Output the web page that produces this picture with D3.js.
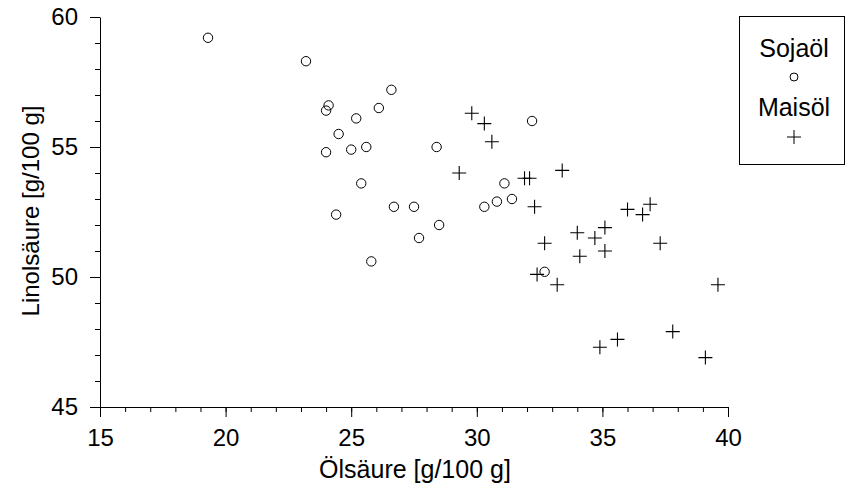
<!DOCTYPE html>
<html lang="de">
<head>
  <meta charset="utf-8">
  <title>Sojaöl vs Maisöl</title>
  <script src="https://cdn.jsdelivr.net/npm/d3@7"></script>
  <style>
    body { margin: 0; background: #fff; }
    text { font-family: "Liberation Sans", Arial, sans-serif; fill: #000; }
  </style>
</head>
<body>
  <svg class="chart" width="851" height="488"></svg>
  <script>
    // Ölsäure / Linolsäure je Probe
    var sojaOel = [19.3, 23.2, 26.6, 24.1, 24.0, 26.1, 25.2, 24.5, 24.0, 25.0, 25.6, 25.4, 26.7,
                   27.5, 24.4, 28.4, 32.2, 31.1, 30.8, 31.4, 30.3, 28.5, 27.7, 25.8, 32.7];
    var sojaLinol = [59.2, 58.3, 57.2, 56.6, 56.4, 56.5, 56.1, 55.5, 54.8, 54.9, 55.0, 53.6, 52.7,
                     52.7, 52.4, 55.0, 56.0, 53.6, 52.9, 53.0, 52.7, 52.0, 51.5, 50.6, 50.2];
    var maisOel = [29.8, 30.3, 30.6, 29.3, 31.9, 32.1, 32.3, 32.7, 32.4, 33.2, 33.4, 36.0, 36.9,
                   36.6, 35.1, 34.0, 34.7, 35.1, 34.1, 37.3, 39.6, 37.8, 35.6, 34.9, 39.1];
    var maisLinol = [56.3, 55.9, 55.2, 54.0, 53.8, 53.8, 52.7, 51.3, 50.1, 49.7, 54.1, 52.6, 52.8,
                     52.4, 51.9, 51.7, 51.5, 51.0, 50.8, 51.3, 49.7, 47.9, 47.6, 47.3, 46.9];
    var xTicks = [15, 20, 25, 30, 35, 40];
    var yTicks = [45, 50, 55, 60];
    var series = ["Sojaöl", "Maisöl"];

    var svg = d3.select("svg.chart");

    var x = d3.scaleLinear().domain([15, 40]).range([100, 728]);
    var y = d3.scaleLinear().domain([45, 60]).range([407, 17]);

    // minor ticks first, then major axis on top
    svg.append("g")
       .attr("transform", "translate(0,407)")
       .call(d3.axisBottom(x).tickValues(d3.range(15, 41, 1)).tickSize(5).tickFormat(""))
       .call(function(g) { g.select(".domain").remove(); });
    svg.append("g")
       .attr("transform", "translate(100,0)")
       .call(d3.axisLeft(y).tickValues(d3.range(45, 61, 1)).tickSize(5).tickFormat(""))
       .call(function(g) { g.select(".domain").remove(); });

    svg.append("g")
       .attr("transform", "translate(0,407)")
       .call(d3.axisBottom(x).tickValues(xTicks).tickSize(10).tickSizeOuter(0).tickPadding(12));
    svg.append("g")
       .attr("transform", "translate(100,0)")
       .call(d3.axisLeft(y).tickValues(yTicks).tickSize(10).tickSizeOuter(0).tickPadding(12));

    svg.selectAll(".tick text")
       .style("font-family", "'Liberation Sans', Arial, sans-serif")
       .style("font-size", "24px")
       .attr("fill", "#000");
    svg.selectAll(".domain, .tick line").attr("stroke", "#000");

    svg.append("text")
       .attr("x", 415)
       .attr("y", 478)
       .attr("text-anchor", "middle")
       .style("font-size", "25px")
       .text("Ölsäure [g/100 g]");

    svg.append("text")
       .attr("transform", "translate(39,211) rotate(-90)")
       .attr("text-anchor", "middle")
       .style("font-size", "24px")
       .text("Linolsäure [g/100 g]");

    var soja = d3.zip(sojaOel, sojaLinol);
    var mais = d3.zip(maisOel, maisLinol);

    svg.append("g").selectAll("circle")
       .data(soja)
       .enter().append("circle")
       .attr("cx", function(d) { return x(d[0]); })
       .attr("cy", function(d) { return y(d[1]); })
       .attr("r", 4.7)
       .attr("fill", "none")
       .attr("stroke", "#000")
       .attr("stroke-width", 1);

    var plus = function(s) { return "M" + (-s) + ",0H" + s + "M0," + (-s) + "V" + s; };

    svg.append("g").selectAll("path")
       .data(mais)
       .enter().append("path")
       .attr("transform", function(d) { return "translate(" + x(d[0]) + "," + y(d[1]) + ")"; })
       .attr("d", plus(7))
       .attr("fill", "none")
       .attr("stroke", "#000")
       .attr("stroke-width", 1.1);

    // legend
    var legend = svg.append("g");
    legend.append("rect")
       .attr("x", 739.5).attr("y", 16.5)
       .attr("width", 105).attr("height", 148)
       .attr("fill", "#fff").attr("stroke", "#000");
    legend.selectAll("text")
       .data(series)
       .enter().append("text")
       .attr("x", 794)
       .attr("y", function(d, i) { return 57 + i * 59; })
       .attr("text-anchor", "middle")
       .style("font-size", "25px")
       .text(function(d) { return d; });
    legend.append("circle")
       .attr("cx", 794).attr("cy", 77).attr("r", 4)
       .attr("fill", "none").attr("stroke", "#000");
    legend.append("path")
       .attr("transform", "translate(794,137)")
       .attr("d", plus(7))
       .attr("fill", "none").attr("stroke", "#000");
  </script>
</body>
</html>
